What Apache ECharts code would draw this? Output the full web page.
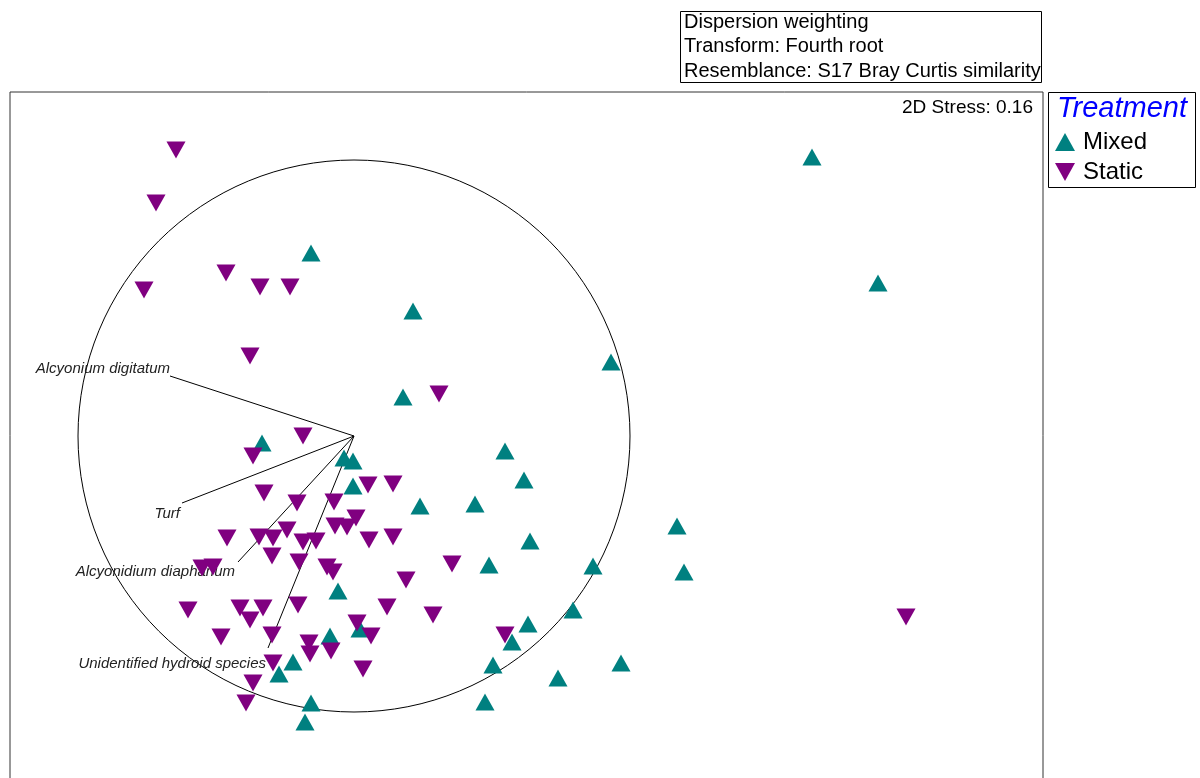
<!DOCTYPE html>
<html>

<head>
    <meta charset="utf-8">
    <title>nMDS Treatment</title>
    <script src="https://cdn.jsdelivr.net/npm/echarts@6/dist/echarts.min.js"></script>
</head>

<body style="margin:0;background:#fff;">
    <div id="main" style="width: 1200px;height:778px;"></div>
    <script type="text/javascript">
        // nMDS ordination scores (axis units)
        const mixedX = [4.58, 5.24, -0.43, 0.59, 2.57, 0.49, -0.92, -0.10, -0.01, -0.01, 0.66, 1.51, 1.70, 1.21, 1.76, 1.35,
            3.23, 3.30, 2.39, 2.19, 1.74, 1.58, 2.67, 1.39, 2.04, 1.31, -0.16, -0.24, 0.06, -0.43, -0.49, -0.61, -0.75]
        const mixedY = [2.79, 1.53, 1.83, 1.25, 0.74, 0.39, -0.07, -0.22, -0.25, -0.50, -0.70, -0.15, -0.44, -0.68, -1.05, -1.29,
            -0.90, -1.36, -1.30, -1.74, -1.88, -2.06, -2.27, -2.29, -2.42, -2.66, -1.55, -2.00, -1.93, -2.67, -2.86, -2.26, -2.38]
        const staticX = [-1.78, -1.98, -2.10, -1.28, -0.94, -0.64, -1.04, 0.85, 5.52, -0.51, -1.01, -0.90, -0.57, -0.20, 0.14, 0.39,
            0.02, -0.19, -0.07, -0.67, -1.27, -0.95, -0.81, -0.51, -0.38, 0.15, 0.39, -0.82, -0.55, -0.27, -0.21, -1.52,
            -1.41, 0.52, -1.66, -1.14, -0.91, -1.04, -0.56, 0.33, -1.33, -0.82, 0.03, 0.17, -0.45, -0.44, -0.23, 0.09,
            -0.81, -1.01, -1.08, 0.79, 0.98, 1.51]
        const staticY = [2.86, 2.33, 1.46, 1.63, 1.49, 1.49, 0.80, 0.42, -1.81, 0.00, -0.20, -0.57, -0.67, -0.66, -0.49, -0.48,
            -0.82, -0.90, -0.91, -0.94, -1.02, -1.01, -1.02, -1.06, -1.05, -1.04, -1.01, -1.20, -1.26, -1.31, -1.36, -1.32,
            -1.31, -1.44, -1.74, -1.72, -1.72, -1.84, -1.69, -1.71, -2.01, -1.99, -1.87, -2.00, -2.07, -2.18, -2.15, -2.33,
            -2.27, -2.47, -2.67, -1.79, -1.28, -1.99]
        // species vectors
        const vectorNames = ['Alcyonium digitatum', 'Turf', 'Alcyonidium diaphanum', 'Unidentified hydroid species']
        const vectorX = [-1.84, -1.72, -1.16, -0.86]
        const vectorY = [0.60, -0.67, -1.26, -2.12]
        const circleRadius = 2.76

        // label offsets from vector tip (px)
        const labelOffsets = [[0, -7], [-2, 11], [-3, 10], [-2, 16]]

        const font = '"Liberation Sans", Arial, sans-serif'
        const zip = (xs, ys) => xs.map((x, i) => [x, ys[i]])
        const downTri = 'path://M0,0L20,0L10,18Z'

        var myChart = echarts.init(document.getElementById('main'));
        var option = {
            animation: false,
            backgroundColor: '#fff',
            grid: {
                left: 10, top: 92, width: 1033, height: 690,
                outerBoundsMode: 'none',
                show: true, borderColor: '#333', borderWidth: 1
            },
            xAxis: {
                type: 'value', min: -3.44, max: 6.89,
                axisLine: { show: false }, axisTick: { show: false },
                axisLabel: { show: false }, splitLine: { show: false }
            },
            yAxis: {
                type: 'value', min: -3.46, max: 3.44,
                axisLine: { show: false }, axisTick: { show: false },
                axisLabel: { show: false }, splitLine: { show: false }
            },
            legend: {
                orient: 'vertical',
                left: 1050, top: 125,
                itemWidth: 20, itemHeight: 18, itemGap: 6,
                textStyle: { fontSize: 24, color: '#000', fontFamily: font, padding: [0, 0, 0, 3] },
                data: [
                    { name: 'Mixed', icon: 'triangle' },
                    { name: 'Static', icon: downTri }
                ]
            },
            graphic: [
                {
                    type: 'rect', shape: { x: 680.5, y: 11.5, width: 361, height: 71 },
                    style: { fill: 'none', stroke: '#000', lineWidth: 1 }
                },
                {
                    type: 'text', x: 684, y: 10,
                    style: {
                        text: 'Dispersion weighting\nTransform: Fourth root\nResemblance: S17 Bray Curtis similarity',
                        font: '20px ' + font, lineHeight: 24.5, fill: '#000', verticalAlign: 'top'
                    }
                },
                {
                    type: 'text', x: 1033, y: 108,
                    style: {
                        text: '2D Stress: 0.16', font: '19px ' + font, fill: '#000',
                        align: 'right', verticalAlign: 'middle'
                    }
                },
                {
                    type: 'rect', shape: { x: 1048.5, y: 92.5, width: 147, height: 95 },
                    style: { fill: 'none', stroke: '#000', lineWidth: 1 }
                },
                {
                    type: 'text', x: 1057, y: 109,
                    style: {
                        text: 'Treatment', font: 'italic 29px ' + font, fill: '#0000ff',
                        align: 'left', verticalAlign: 'middle'
                    }
                }
            ],
            series: [
                {
                    name: 'circle',
                    type: 'custom',
                    silent: true,
                    data: [[0, 0, circleRadius]],
                    renderItem: function (params, api) {
                        const c = api.coord([api.value(0), api.value(1)])
                        const r = api.size([api.value(2), 0])[0]
                        return {
                            type: 'circle',
                            shape: { cx: c[0], cy: c[1], r: r },
                            style: { fill: 'none', stroke: '#000', lineWidth: 1 }
                        }
                    }
                },
                {
                    name: 'vectors',
                    type: 'custom',
                    silent: true,
                    data: zip(vectorX, vectorY),
                    renderItem: function (params, api) {
                        const o = api.coord([0, 0])
                        const e = api.coord([api.value(0), api.value(1)])
                        const off = labelOffsets[params.dataIndex]
                        return {
                            type: 'group',
                            children: [
                                {
                                    type: 'line',
                                    shape: { x1: o[0], y1: o[1], x2: e[0], y2: e[1] },
                                    style: { stroke: '#000', lineWidth: 1 }
                                },
                                {
                                    type: 'text',
                                    x: e[0] + off[0], y: e[1] + off[1],
                                    style: {
                                        text: vectorNames[params.dataIndex],
                                        font: 'italic 15px ' + font, fill: '#222',
                                        textAlign: 'right', textVerticalAlign: 'middle'
                                    }
                                }
                            ]
                        }
                    }
                },
                {
                    name: 'Mixed',
                    type: 'scatter',
                    symbol: 'triangle',
                    symbolSize: [19, 17],
                    itemStyle: { color: '#008080', opacity: 1 },
                    emphasis: { disabled: true },
                    data: zip(mixedX, mixedY)
                },
                {
                    name: 'Static',
                    type: 'scatter',
                    symbol: downTri,
                    symbolSize: [19, 17],
                    itemStyle: { color: '#800080', opacity: 1 },
                    emphasis: { disabled: true },
                    data: zip(staticX, staticY)
                }
            ]
        };

        myChart.setOption(option);

    </script>
</body>

</html>
